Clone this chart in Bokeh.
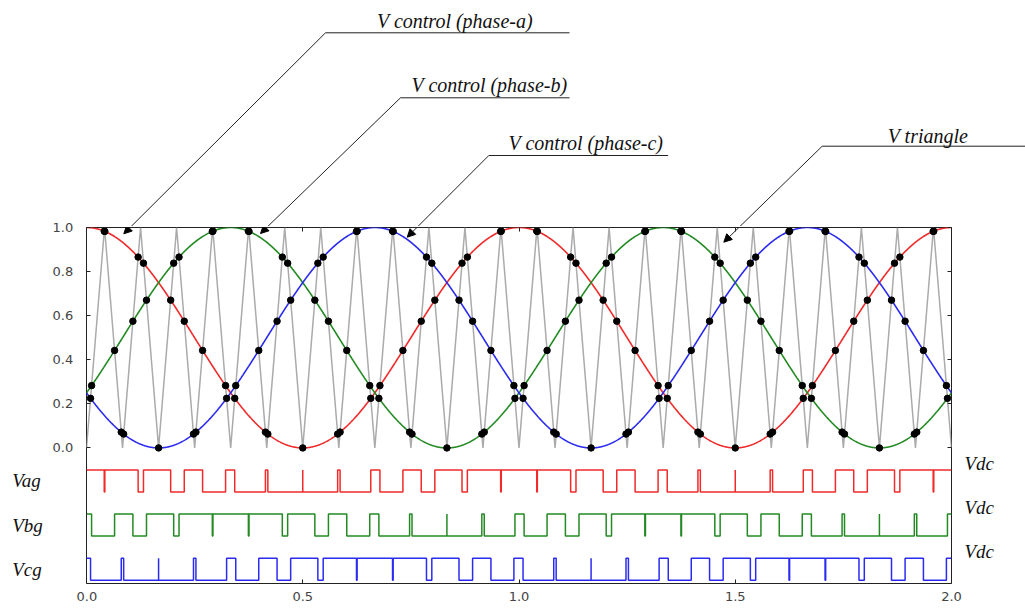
import numpy as np
from bokeh.plotting import figure
from bokeh.layouts import column, row
from bokeh.models import Range1d, FixedTicker, LinearAxis, Label, Arrow, NormalHead
from bokeh.embed import file_html
from bokeh.resources import INLINE

# ---------------- values ----------------
x_start, x_end = 0.0, 2.0
y_bottom, y_top = -0.615, 1.0
ref_period = 1.0                 # control sines: one cycle per 1.0
carrier_period = 1.0 / 12.0      # triangle carrier: 24 cycles over 0..2
phase_names = ["phase-a", "phase-b", "phase-c"]
phase_shift = [0.0, 1.0 / 3.0, 2.0 / 3.0]   # maxima at 0/1.0, 1/3, 2/3
ctrl_offset = 0.5
ctrl_amp = 0.5
tri_min, tri_max = 0.0, 1.0
pwm_names = ["Vag", "Vbg", "Vcg"]
pwm_low = [-0.2, -0.4, -0.6]
pwm_high = [-0.1, -0.3, -0.5]
pwm_level_label = "Vdc"
x_ticks = [0.0, 0.5, 1.0, 1.5, 2.0]
y_ticks = [0.0, 0.2, 0.4, 0.6, 0.8, 1.0]
callout_texts = ["V control (phase-a)", "V control (phase-b)",
                 "V control (phase-c)", "V triangle"]

colors = ["#f02a2a", "#238a23", "#2b2bf0"]
tri_color = "#ababab"
SERIF = "Liberation Serif"

# ---------------- page layout (pixels) ----------------
W, H = 1025, 608
FL, FR, FT, FB = 86, 951, 227, 583   # axes frame on the page
LEFT_W = 76                          # left strip: Vag.. labels + y tick labels
TOP_H = FT - 1                       # callout strip height
MAIN_TOP_B, MAIN_BOT_B = 1, H - FB
MAIN_LEFT_B, MAIN_RIGHT_B = FL - LEFT_W, 12
MAIN_W = MAIN_LEFT_B + (FR - FL) + MAIN_RIGHT_B
MAIN_H = H - TOP_H
RIGHT_X0 = LEFT_W + MAIN_W
RIGHT_W = W - RIGHT_X0


def dx(px):
    return x_start + (px - FL) * (x_end - x_start) / (FR - FL)


def dy(py):
    return y_top - (py - FT) * (y_top - y_bottom) / (FB - FT)


# ---------------- derived curves ----------------
half = carrier_period / 2.0
n_half = int(round((x_end - x_start) / half))
tri_x = [x_start + k * half for k in range(n_half + 1)]
tri_y = [tri_min if k % 2 == 0 else tri_max for k in range(n_half + 1)]

xs = np.linspace(x_start, x_end, 2001)
xg = np.linspace(x_start, x_end, 480001)
frac = (xg / carrier_period) % 1.0
trig = tri_min + (tri_max - tri_min) * (1.0 - np.abs(2.0 * frac - 1.0))


def ctrl(x, shift):
    return ctrl_offset + ctrl_amp * np.cos(2 * np.pi * (x / ref_period - shift))


def bare(fig):
    fig.background_fill_color = "white"
    fig.border_fill_color = "white"
    fig.outline_line_color = None
    fig.xgrid.visible = False
    fig.ygrid.visible = False
    return fig


def style_axis(ax, labels):
    ax.axis_line_color = None
    ax.major_tick_in = 4
    ax.major_tick_out = 0
    ax.minor_tick_line_color = None
    ax.major_tick_line_color = "#222222"
    ax.major_label_text_font = "DejaVu Sans"
    ax.major_label_text_color = "#444444"
    if labels:
        ax.major_label_text_font_size = "13px"
    else:
        ax.major_label_text_font_size = "0px"
        ax.major_label_standoff = 0


# ---------------- main axes ----------------
p = figure(width=MAIN_W, height=MAIN_H, output_backend="svg", toolbar_location=None,
           x_range=Range1d(x_start, x_end), y_range=Range1d(y_bottom, y_top),
           min_border_left=MAIN_LEFT_B, min_border_right=MAIN_RIGHT_B,
           min_border_top=MAIN_TOP_B, min_border_bottom=MAIN_BOT_B,
           x_axis_location=None, y_axis_location=None)
bare(p)
p.outline_line_color = "#222222"
p.outline_line_width = 1

p.line(tri_x, tri_y, line_color=tri_color, line_width=1.5)

dots_x, dots_y = [], []
for i, sh in enumerate(phase_shift):
    p.line(xs, ctrl(xs, sh), line_color=colors[i], line_width=1.6)

    s = ctrl(xg, sh)
    d = s - trig
    # points where the sine only touches a carrier trough
    touch = np.where((d[1:-1] >= d[:-2]) & (d[1:-1] >= d[2:]) & (np.abs(d[1:-1]) < 1e-6))[0] + 1
    d2 = d.copy()
    d2[touch] = -1e-12
    above = d2 > 0
    idx = np.where(above[:-1] != above[1:])[0]
    events = []
    for k in idx:
        xc = xg[k] - d2[k] * (xg[k + 1] - xg[k]) / (d2[k + 1] - d2[k])
        events.append((xc, "x"))
        dots_x.append(xc)
        dots_y.append(float(ctrl(xc, sh)))
    for k in touch:
        events.append((xg[k], "t"))
        dots_x.append(xg[k])
        dots_y.append(float(s[k]))
    events.sort()

    lo, hi = pwm_low[i], pwm_high[i]
    state = bool(above[0])
    px_, py_ = [x_start], [hi if state else lo]
    for xe, kind in events:
        if kind == "x":
            px_ += [xe, xe]
            py_ += [hi if state else lo, lo if state else hi]
            state = not state
        else:
            px_ += [xe, xe, xe]
            py_ += [lo, hi, lo]
    px_.append(x_end)
    py_.append(hi if state else lo)
    p.line(px_, py_, line_color=colors[i], line_width=1.5)

p.scatter(dots_x, dots_y, size=6.5, fill_color="black", line_color="black")

bx = LinearAxis(ticker=FixedTicker(ticks=x_ticks))
style_axis(bx, True)
bx.major_label_standoff = 8
bx.major_label_overrides = {t: f"{t:.1f}" for t in x_ticks}
p.add_layout(bx, "below")

for side in ("left", "right"):
    ax = LinearAxis(ticker=FixedTicker(ticks=y_ticks))
    style_axis(ax, False)
    ax.major_label_overrides = {t: "" for t in y_ticks}
    p.add_layout(ax, side)

ax_top = LinearAxis(ticker=FixedTicker(ticks=x_ticks))
style_axis(ax_top, False)
ax_top.major_label_overrides = {t: "" for t in x_ticks}
p.add_layout(ax_top, "above")

# ---------------- left strip: PWM names + y tick labels ----------------
pl = bare(figure(width=LEFT_W, height=H, output_backend="svg", toolbar_location=None,
                 x_range=Range1d(0, LEFT_W - 28), y_range=Range1d(y_bottom, y_top),
                 min_border_left=0, min_border_right=28,
                 min_border_top=FT, min_border_bottom=H - FB,
                 x_axis_location=None, y_axis_location=None))
ly = LinearAxis(ticker=FixedTicker(ticks=y_ticks))
ly.axis_line_color = None
ly.major_tick_in = 0
ly.major_tick_out = 0
ly.minor_tick_line_color = None
ly.major_label_text_font = "DejaVu Sans"
ly.major_label_text_font_size = "13px"
ly.major_label_text_color = "#444444"
ly.major_label_standoff = 5
ly.major_label_overrides = {t: f"{t:.1f}" for t in y_ticks}
pl.add_layout(ly, "right")

for i, name in enumerate(pwm_names):
    pl.add_layout(Label(x=12, y=(pwm_low[i] + pwm_high[i]) / 2, text=name,
                        text_font=SERIF, text_font_style="italic", text_font_size="19px",
                        text_baseline="middle", text_align="left", text_color="#111111"))

# ---------------- right strip: Vdc labels ----------------
pr = bare(figure(width=RIGHT_W, height=MAIN_H, output_backend="svg", toolbar_location=None,
                 x_range=Range1d(RIGHT_X0, W), y_range=Range1d(y_bottom, y_top),
                 min_border_left=0, min_border_right=0,
                 min_border_top=MAIN_TOP_B, min_border_bottom=MAIN_BOT_B,
                 x_axis_location=None, y_axis_location=None))
for i in range(len(pwm_names)):
    pr.add_layout(Label(x=RIGHT_X0 + 1, y=pwm_high[i] + 0.03, text=pwm_level_label,
                        text_font=SERIF, text_font_style="italic", text_font_size="19px",
                        text_baseline="middle", text_align="left", text_color="#111111"))

# ---------------- callout strip ----------------
pt = bare(figure(width=W - LEFT_W, height=TOP_H, output_backend="svg", toolbar_location=None,
                 x_range=Range1d(LEFT_W, W), y_range=Range1d(TOP_H, 0), min_border=0,
                 x_axis_location=None, y_axis_location=None))

# (text centre x, text centre y, underline x0, underline x1, underline y, tip x, tip y)
callouts = [
    (454.5, 20.5, 325, 569, 32.3, 123.3, 233.3),
    (489.0, 84.0, 400, 569, 97.3, 260.0, 233.0),
    (585.5, 142.0, 488.3, 667.7, 155.0, 406.7, 236.7),
    (927.5, 135.0, 821.7, 1025, 145.7, 723.3, 241.7),
]
for txt, (tcx, tcy, ux0, ux1, uy, tipx, tipy) in zip(callout_texts, callouts):
    pt.add_layout(Label(x=tcx, y=tcy, text=txt,
                        text_font=SERIF, text_font_style="italic", text_font_size="20px",
                        text_baseline="middle", text_align="center", text_color="#111111"))
    pt.add_layout(Arrow(end=None, x_start=ux0, y_start=uy, x_end=ux1, y_end=uy,
                        line_color="#222222", line_width=1))
    t = (FT - uy) / (tipy - uy)
    xcross = ux0 + t * (tipx - ux0)
    pt.add_layout(Arrow(end=None, x_start=ux0, y_start=uy, x_end=xcross, y_end=FT,
                        line_color="#222222", line_width=1))
    p.add_layout(Arrow(end=NormalHead(size=8, fill_color="black", line_color="black", line_width=1),
                       x_start=dx(xcross), y_start=y_top, x_end=dx(tipx), y_end=dy(tipy),
                       line_color="#222222", line_width=1))

layout = row(pl, column(pt, row(p, pr, spacing=0), spacing=0), spacing=0)
open("out.html", "w").write(file_html(layout, INLINE))
